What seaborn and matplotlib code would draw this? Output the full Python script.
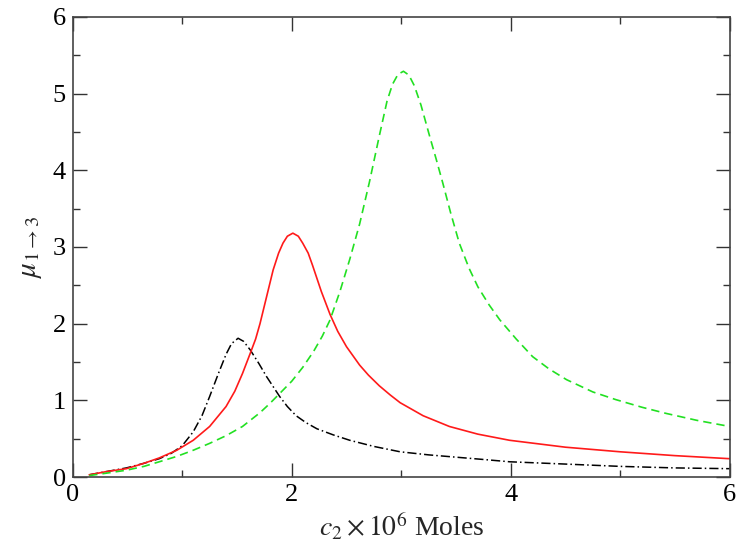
import numpy as np
import pandas as pd
import seaborn as sns
import matplotlib.pyplot as plt
from matplotlib.ticker import MultipleLocator

# values
black_x = [0.15, 0.30, 0.49, 0.65, 0.79, 0.90, 1.00, 1.10, 1.18, 1.25, 1.33, 1.40, 1.45, 1.51, 1.56, 1.62, 1.70, 1.77, 1.89, 1.96, 2.04, 2.13, 2.23, 2.38, 2.53, 2.75, 2.99, 3.25, 3.50, 3.75, 3.99, 4.50, 5.00, 5.50, 6.00]
black_y = [0.03, 0.07, 0.12, 0.18, 0.24, 0.31, 0.41, 0.59, 0.80, 1.05, 1.35, 1.60, 1.74, 1.81, 1.77, 1.66, 1.48, 1.31, 1.05, 0.92, 0.80, 0.71, 0.63, 0.55, 0.48, 0.40, 0.33, 0.29, 0.26, 0.23, 0.20, 0.17, 0.14, 0.12, 0.11]

red_x = [0.15, 0.30, 0.49, 0.65, 0.79, 0.95, 1.10, 1.25, 1.40, 1.48, 1.55, 1.62, 1.67, 1.71, 1.77, 1.83, 1.88, 1.92, 1.96, 2.01, 2.06, 2.10, 2.15, 2.19, 2.27, 2.35, 2.42, 2.50, 2.62, 2.70, 2.80, 2.90, 2.99, 3.20, 3.44, 3.70, 3.99, 4.50, 5.00, 5.50, 6.00]
red_y = [0.03, 0.07, 0.11, 0.18, 0.25, 0.35, 0.48, 0.66, 0.92, 1.12, 1.35, 1.61, 1.80, 2.00, 2.35, 2.70, 2.92, 3.05, 3.14, 3.18, 3.14, 3.05, 2.92, 2.76, 2.42, 2.12, 1.90, 1.70, 1.46, 1.33, 1.19, 1.07, 0.97, 0.80, 0.66, 0.56, 0.48, 0.39, 0.33, 0.28, 0.24]

green_x = [0.15, 0.30, 0.49, 0.65, 0.79, 0.95, 1.10, 1.25, 1.40, 1.55, 1.71, 1.80, 1.89, 2.00, 2.10, 2.20, 2.28, 2.35, 2.44, 2.53, 2.62, 2.71, 2.80, 2.87, 2.92, 2.97, 3.02, 3.07, 3.12, 3.18, 3.26, 3.32, 3.38, 3.45, 3.53, 3.62, 3.70, 3.80, 3.90, 4.05, 4.20, 4.35, 4.51, 4.75, 4.96, 5.20, 5.42, 5.70, 6.00]
green_y = [0.02, 0.05, 0.09, 0.14, 0.20, 0.27, 0.35, 0.44, 0.54, 0.66, 0.84, 0.96, 1.09, 1.25, 1.43, 1.64, 1.84, 2.05, 2.42, 2.84, 3.30, 3.85, 4.45, 4.90, 5.12, 5.25, 5.29, 5.24, 5.10, 4.85, 4.44, 4.14, 3.83, 3.45, 3.05, 2.72, 2.48, 2.25, 2.05, 1.80, 1.57, 1.41, 1.27, 1.11, 1.01, 0.91, 0.83, 0.74, 0.66]

sns.set_style("ticks")
plt.rcParams['font.family'] = ['Liberation Serif', 'DejaVu Serif']
plt.rcParams['mathtext.fontset'] = 'stix'

fig = plt.figure(figsize=(7.5, 5.6), dpi=100)
ax = fig.add_axes([0.097, 0.148, 0.876, 0.822])

sns.lineplot(x=black_x, y=black_y, ax=ax, color="black", linestyle=(0, (6, 2, 1, 2)), linewidth=1.1, sort=False)
sns.lineplot(x=red_x, y=red_y, ax=ax, color="#ff1a1a", linewidth=1.2, sort=False)
sns.lineplot(x=green_x, y=green_y, ax=ax, color="#22e022", linestyle=(0, (5, 3)), linewidth=1.2, sort=False)

ax.set_xlim(0, 6)
ax.set_ylim(0, 6)
ax.xaxis.set_major_locator(MultipleLocator(2))
ax.xaxis.set_minor_locator(MultipleLocator(1))
ax.yaxis.set_major_locator(MultipleLocator(1))
ax.yaxis.set_minor_locator(MultipleLocator(0.5))
ax.tick_params(which="both", direction="in", top=True, right=True, labelsize=19, colors="#333333", labelcolor="black")
ax.tick_params(which="major", length=10, width=1.0, pad=5)
ax.tick_params(which="minor", length=5, width=1.0)
for s in ax.spines.values():
    s.set_color("#444444")
    s.set_linewidth(1.2)

ax.set_xlabel(r"$c_2 \times 10^6$ Moles", fontsize=20, labelpad=4)
ax.set_ylabel(r"$\mu_{1\rightarrow3}$", fontsize=21, labelpad=6)

fig.savefig("out.png", dpi=100)
